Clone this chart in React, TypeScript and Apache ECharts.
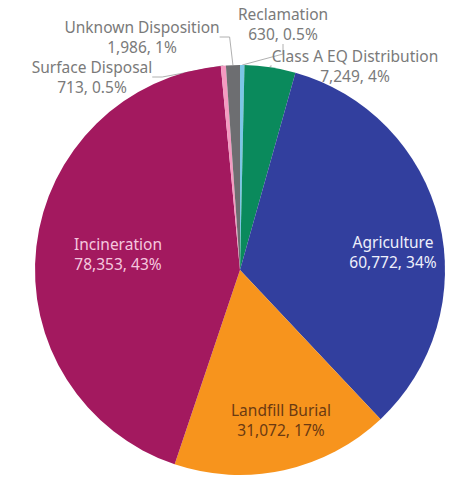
import React, { useEffect, useRef } from "react";
import * as echarts from "echarts";

const categories = [
  "Reclamation",
  "Class A EQ Distribution",
  "Agriculture",
  "Landfill Burial",
  "Incineration",
  "Surface Disposal",
  "Unknown Disposition",
];
const values = [630, 7249, 60772, 31072, 78353, 713, 1986];
const percentLabels = ["0.5%", "4%", "34%", "17%", "43%", "0.5%", "1%"];
const colors = ["#7cc6e6", "#0a8a5c", "#323f9e", "#f7941d", "#a3195f", "#f49ac1", "#6d6e71"];
const labelColors = ["#7a7a7a", "#7a7a7a", "#eef0fb", "#6b3a12", "#f5c8df", "#7a7a7a", "#7a7a7a"];
// label anchor positions (centre of text block)
const labelPos: [number, number][] = [
  [283, 24],
  [355, 66],
  [393, 252],
  [281, 420],
  [118, 254],
  [92, 77],
  [142, 37],
];
const insideLabels = [false, false, true, true, true, false, false];

export default function App() {
  const ref = useRef<HTMLDivElement>(null);
  useEffect(() => {
    if (!ref.current) return;
    const chart = echarts.init(ref.current, null, { renderer: "svg" });
    const data = categories.map((name, i) => ({
      name,
      value: values[i],
      itemStyle: { color: colors[i] },
      label: {
        color: labelColors[i],
        position: insideLabels[i] ? "inside" : "outside",
      },
      labelLine: { show: !insideLabels[i] },
    }));
    chart.setOption({
      animation: false,
      backgroundColor: "#ffffff",
      series: [
        {
          type: "pie",
          center: [240, 270],
          radius: 205,
          startAngle: 90,
          clockwise: true,
          avoidLabelOverlap: false,
          data,
          label: {
            fontFamily: "Noto Sans",
            fontSize: 15.5,
            lineHeight: 20,
            align: "center",
            formatter: (p: any) =>
              `${p.name}\n${values[p.dataIndex].toLocaleString("en-US")}, ${percentLabels[p.dataIndex]}`,
          },
          labelLine: {
            lineStyle: { color: "#b0b0b0", width: 1 },
            length: 10,
            length2: 10,
          },
          labelLayout: (params: any) => ({
            x: labelPos[params.dataIndex][0],
            y: labelPos[params.dataIndex][1],
            align: "center",
            verticalAlign: "middle",
          }),
        },
      ],
    });
    return () => chart.dispose();
  }, []);
  return (
    <div
      ref={ref}
      style={{ position: "fixed", left: 0, top: 0, width: 475, height: 481 }}
    />
  );
}
